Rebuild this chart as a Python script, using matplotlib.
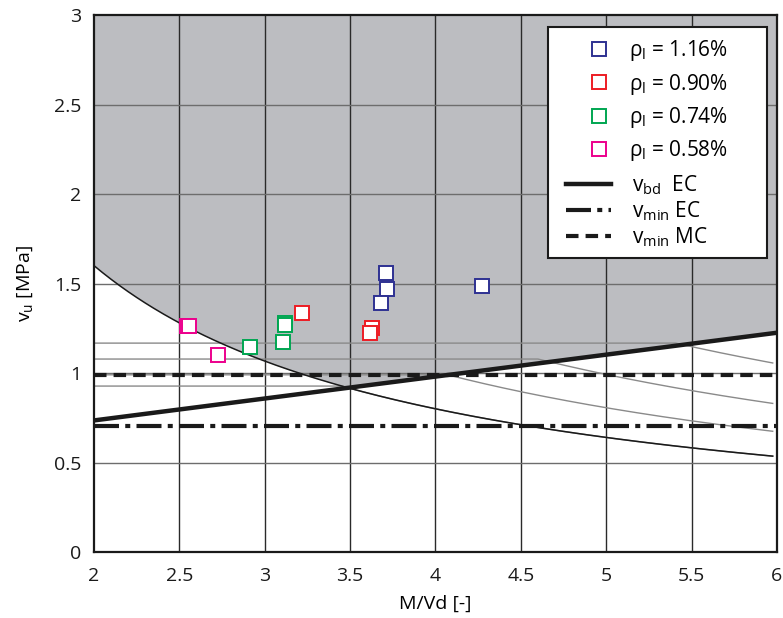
import numpy as np
import matplotlib
matplotlib.use("Agg")
import matplotlib.pyplot as plt
from matplotlib.lines import Line2D
from matplotlib.patches import Rectangle

plt.rcParams['font.family'] = ['Open Sans', 'DejaVu Sans']
plt.rcParams['mathtext.fontset'] = 'custom'
plt.rcParams['mathtext.rm'] = 'Open Sans'
plt.rcParams['mathtext.it'] = 'Open Sans'
plt.rcParams['mathtext.sf'] = 'Open Sans'

# ---- data ----
series_labels = [r'$\rho_{\mathrm{l}}$ = 1.16%', r'$\rho_{\mathrm{l}}$ = 0.90%',
                 r'$\rho_{\mathrm{l}}$ = 0.74%', r'$\rho_{\mathrm{l}}$ = 0.58%']
series_colors = ['#2E3192', '#ED1C24', '#00A651', '#EC008C']

x_116 = [3.708, 3.718, 3.679, 4.270]
y_116 = [1.560, 1.469, 1.393, 1.486]
x_090 = [3.216, 3.626, 3.616]
y_090 = [1.333, 1.253, 1.222]
x_074 = [3.119, 3.119, 3.105, 2.914]
y_074 = [1.278, 1.266, 1.172, 1.143]
x_058 = [2.546, 2.558, 2.724]
y_058 = [1.263, 1.263, 1.100]

# v_bd EC (linear)
vbd_x = [2.0, 6.0]
vbd_y = [0.735, 1.225]
# v_min EC and v_min MC (constant)
vmin_ec = 0.704
vmin_mc = 0.99

line_labels = [r'$\mathrm{v}_{\mathrm{bd}}$  EC', r'$\mathrm{v}_{\mathrm{min}}$ EC',
               r'$\mathrm{v}_{\mathrm{min}}$ MC']

# thin curves: plateau level and coefficient of k/x decay
plateau = [1.167, 1.078, 0.99, 0.927]
decay_k = [6.31, 4.96, 4.03, 3.20]
black_k = 3.20

x_end = 5.975

DK = '#1a1a1a'
DASHDOT = (6, 1.5, 1.2, 1.5)
DASHED = (3, 1.7)

fig = plt.figure(figsize=(7.83, 6.18), dpi=100)
ax = fig.add_axes([0.120, 0.1068, 0.8723, 0.8689])
ax.set_xlim(2, 6)
ax.set_ylim(0, 3)

xs = np.linspace(2, 6, 400)
lower = np.maximum(black_k / xs, np.interp(xs, vbd_x, vbd_y))
ax.fill_between(xs, lower, 3, color='#BCBDC1', lw=0, zorder=0)

# grid
for gx in np.arange(2.5, 6.0, 0.5):
    ax.axvline(gx, color='#2a2a2a', lw=1.0, zorder=1)
for gy in np.arange(0.5, 3.0, 0.5):
    ax.axhline(gy, color='#6d6d6d', lw=1.0, zorder=1)

xc = np.linspace(2, x_end, 400)
for lev, k in zip(plateau, decay_k):
    ax.plot(xc, np.minimum(lev, k / xc), color='#8a8a8a', lw=1.0, zorder=2)
ax.plot(xc, black_k / xc, color=DK, lw=1.1, zorder=3)

ax.plot(vbd_x, vbd_y, color=DK, lw=3.2, zorder=4, solid_capstyle='butt')
ax.plot([2, 6], [vmin_ec, vmin_ec], color=DK, lw=3.0, zorder=4, dashes=DASHDOT)
ax.plot([2, 6], [vmin_mc, vmin_mc], color=DK, lw=3.0, zorder=4, dashes=DASHED)

series = [(x_116, y_116), (x_090, y_090), (x_074, y_074), (x_058, y_058)]
for (sx, sy), c in zip(series, series_colors):
    ax.plot(sx, sy, ls='none', marker='s', ms=10, mfc='white', mec=c, mew=1.4, zorder=5)

for sp in ax.spines.values():
    sp.set_linewidth(1.6)
    sp.set_color(DK)

ax.set_xticks(np.arange(2, 6.01, 0.5))
ax.set_xticklabels(['2', '2.5', '3', '3.5', '4', '4.5', '5', '5.5', '6'])
ax.set_yticks(np.arange(0, 3.01, 0.5))
ax.set_yticklabels(['0', '0.5', '1', '1.5', '2', '2.5', '3'])
ax.tick_params(length=0, labelsize=14, colors=DK)
ax.tick_params(axis='x', pad=11)
ax.tick_params(axis='y', pad=9)
ax.set_xlabel('M/Vd [-]', fontsize=14, labelpad=7)
ax.set_ylabel(r'$\mathrm{v}_{\mathrm{u}}$ [MPa]', fontsize=14, labelpad=14)

# legend frame
frame = Rectangle((0.665, 0.5475), 0.3205, 0.4302, transform=ax.transAxes,
                  facecolor='white', edgecolor=DK, lw=1.5, zorder=9)
ax.add_patch(frame)

mh = [Line2D([], [], ls='none', marker='s', ms=10, mfc='white', mec=c, mew=1.4)
      for c in series_colors]
leg1 = ax.legend(mh, series_labels, loc='upper left', bbox_to_anchor=(0.693, 0.984),
                 fontsize=15, frameon=False, handlelength=1.6, handletextpad=0.65,
                 labelspacing=0.4, borderpad=0.2)
leg1.set_zorder(10)
ax.add_artist(leg1)

lh = [Line2D([], [], color=DK, lw=3.2),
      Line2D([], [], color=DK, lw=3.0, dashes=DASHDOT),
      Line2D([], [], color=DK, lw=3.0, dashes=DASHED)]
leg2 = ax.legend(lh, line_labels, loc='upper left', bbox_to_anchor=(0.67, 0.733),
                 fontsize=15, frameon=False, handlelength=2.15, handletextpad=1.0,
                 labelspacing=0.12, borderpad=0.2)
leg2.set_zorder(10)

fig.savefig('out.png', dpi=100)
